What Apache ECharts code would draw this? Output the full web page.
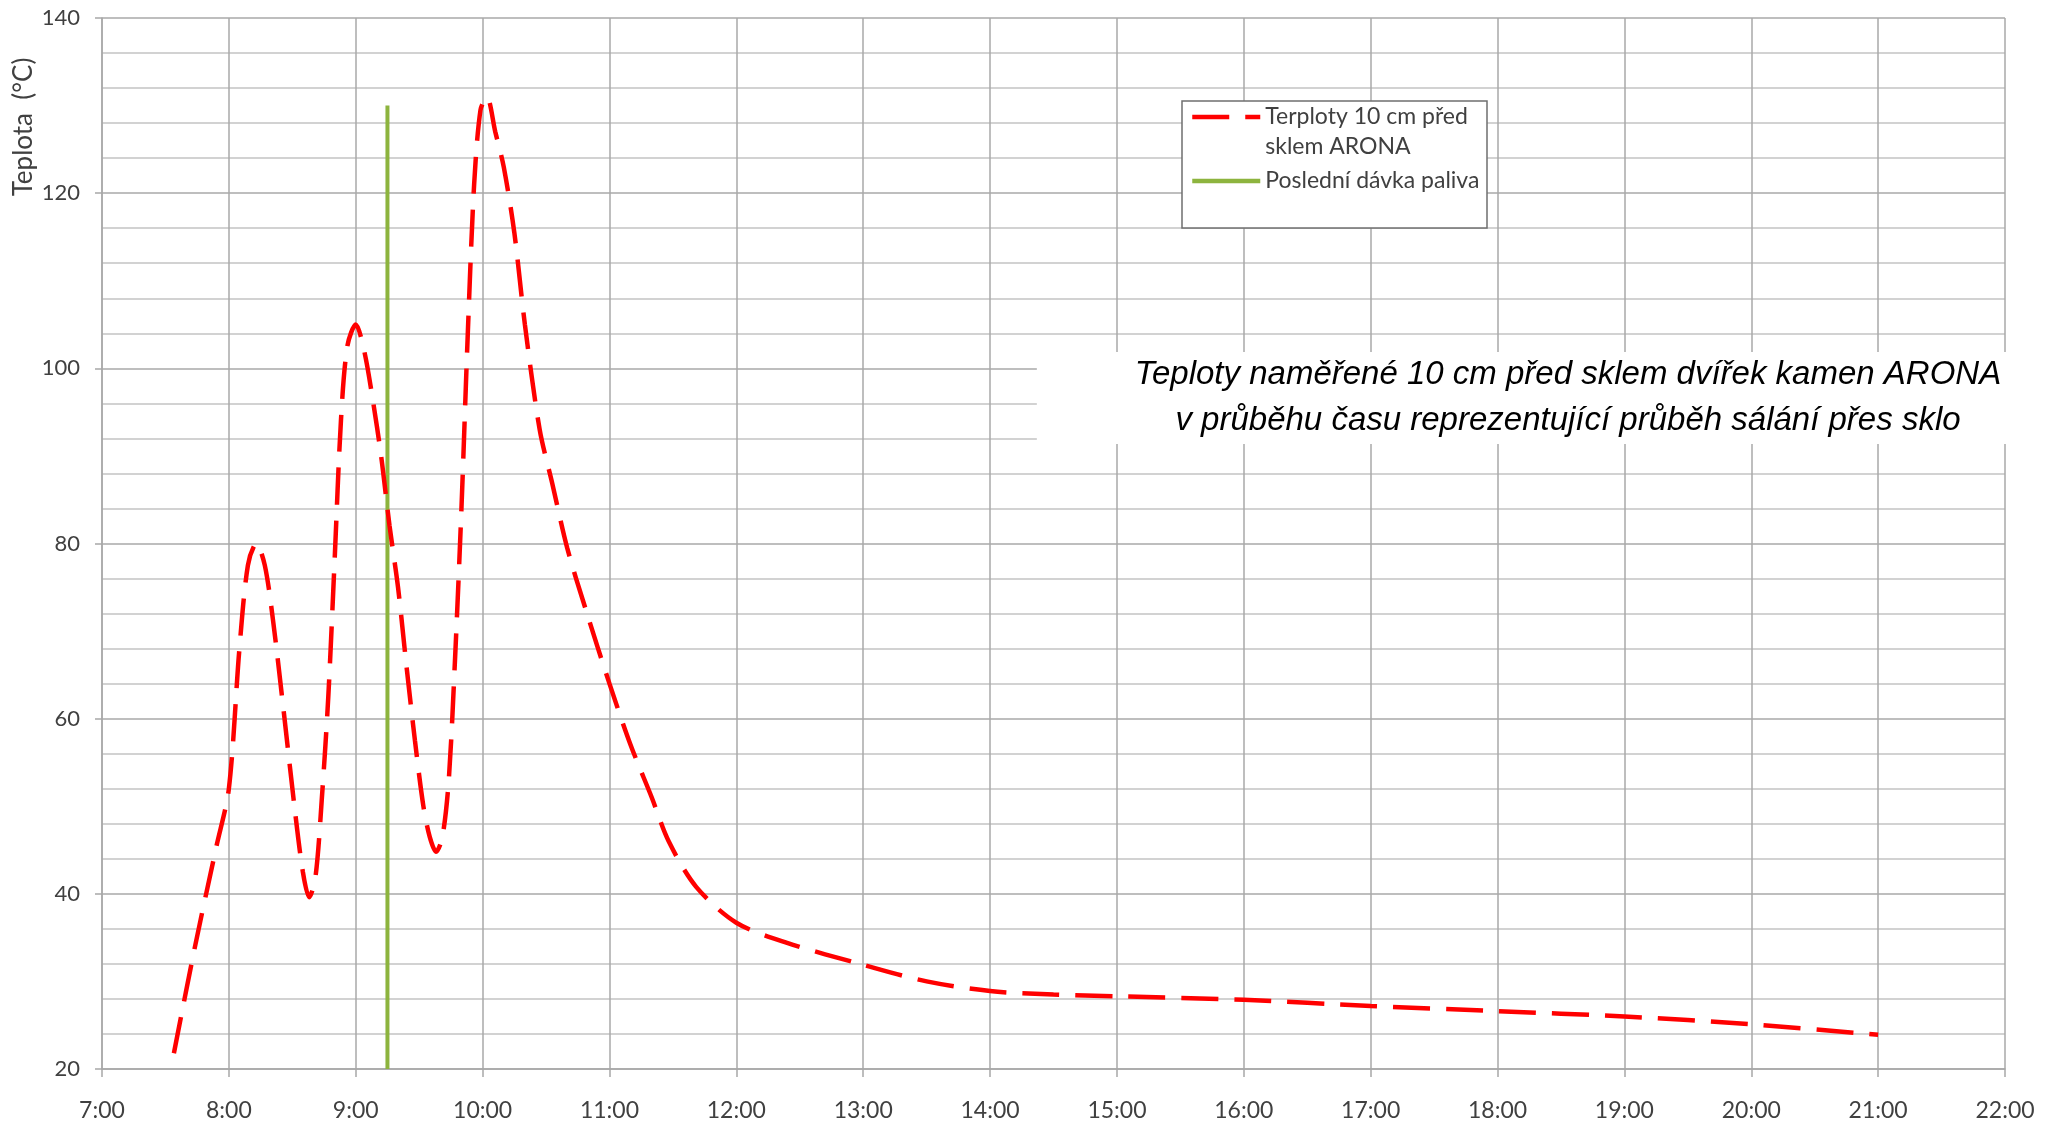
<!DOCTYPE html>
<html>
<head>
<meta charset="utf-8">
<title>Teploty ARONA</title>
<script src="https://cdn.jsdelivr.net/npm/echarts@6/dist/echarts.min.js"></script>
<style>
  html, body { margin: 0; padding: 0; background: #fff; }
  #chart { width: 2056px; height: 1128px; }
</style>
</head>
<body>
<div id="chart"></div>
<script>
// measured temperatures 10 cm in front of the glass (time of day, °C)
const times = ['7:34','7:44','7:54','8:00','8:05','8:09','8:13','8:17','8:21','8:26','8:31','8:35','8:38','8:41','8:44','8:47','8:50','8:53','8:56','9:00','9:04','9:08','9:12','9:16','9:20','9:24','9:28','9:32','9:35','9:38','9:41','9:44','9:47','9:50','9:53','9:56','9:59','10:02','10:06','10:10','10:15','10:20','10:27','10:33','10:40','10:49','11:00','11:10','11:20','11:28','11:41','12:00','12:24','13:00','13:30','14:00','14:30','15:00','16:00','17:00','18:00','19:00','20:00','21:00']
const temps = [21.8,34,45.3,52,68,77.5,80,77.5,71,60.7,50,42.5,39.6,42,51,62.4,78,94,102.5,105,102,96.5,90,82,75,66,57.5,50,46.5,44.8,46.5,53,67,84,104,121,129.5,131,127,123,115.5,105,93,86.8,79.5,72.3,64,57,51,46,40.8,36.7,34.4,31.9,30,28.9,28.5,28.3,27.9,27.2,26.6,26,25.1,23.9]

// last fuel batch marker
const fuelTimes = ['9:15','9:15']
const fuelTemps = [20,130]

const seriesNames = ['Terploty 10 cm před\nsklem ARONA', 'Poslední dávka paliva']
const titleLines = ['Teploty naměřené 10 cm před sklem dvířek kamen ARONA', 'v průběhu času reprezentující průběh sálání přes sklo']
const yName = 'Teplota  (°C)'

const toMin = t => { const [h, m] = t.split(':').map(Number); return h * 60 + m }
const pairs = (ts, vs) => ts.map((t, i) => [toMin(t), vs[i]])

const labelFont = 'Lato, "Open Sans", sans-serif'
const gridColor = '#a8a8a8'
const titlePad = 98

const chart = echarts.init(document.getElementById('chart'))
chart.setOption({
  animation: false,
  backgroundColor: '#fff',
  title: {
    text: titleLines.join('\n'),
    left: 1568 - titlePad,   // text is centred on left + padding
    top: 352,
    textAlign: 'center',
    backgroundColor: '#fff',
    padding: [0, titlePad],
    textStyle: {
      fontFamily: '"Liberation Sans", Arial, sans-serif',
      fontStyle: 'italic',
      fontWeight: 'normal',
      fontSize: 33,
      lineHeight: 46,
      color: '#000'
    }
  },
  legend: {
    orient: 'vertical',
    left: 1190,
    top: 72,
    itemWidth: 68,
    itemHeight: 14,
    itemGap: 4,
    padding: 0,
    itemStyle: { opacity: 0 },
    lineStyle: { width: 4.5 },
    textStyle: { fontFamily: labelFont, fontSize: 23, lineHeight: 30, color: '#404040' },
    // empty first line keeps the icon level with the first text line
    formatter: name => name.indexOf('\n') > -1 ? '\n' + name : name,
    data: seriesNames
  },
  graphic: [
    {
      type: 'rect', z: 3,
      shape: { x: 1182, y: 101, width: 305, height: 127 },
      style: { fill: '#fff', stroke: '#6f6f6f', lineWidth: 1.5 }
    },
    {
      type: 'text', z: 5,
      x: 24, y: 127, rotation: Math.PI / 2,
      style: { text: yName, fontFamily: labelFont, fontSize: 26, fill: '#404040', align: 'center', verticalAlign: 'middle' }
    }
  ],
  grid: { left: 102, right: 51, top: 18, bottom: 59, outerBoundsMode: 'none' },
  xAxis: {
    type: 'value',
    min: 420, max: 1320, interval: 60,
    axisLine: { show: true, lineStyle: { color: gridColor, width: 1.5 } },
    axisTick: { show: true, length: 8, lineStyle: { color: gridColor, width: 1.5 } },
    axisLabel: {
      margin: 30, fontFamily: labelFont, fontSize: 23, color: '#404040',
      formatter: v => Math.floor(v / 60) + ':00'
    },
    splitLine: { show: true, lineStyle: { color: gridColor, width: 1.5 } }
  },
  yAxis: {
    type: 'value',
    min: 20, max: 140, interval: 20,
    axisLine: { show: true, lineStyle: { color: gridColor, width: 1.5 } },
    axisTick: { show: true, length: 7, lineStyle: { color: gridColor, width: 1.5 } },
    axisLabel: { margin: 22, fontFamily: labelFont, fontSize: 22, color: '#404040' },
    splitLine: { show: true, lineStyle: { color: gridColor, width: 1.5 } },
    minorTick: { show: false, splitNumber: 5 },
    minorSplitLine: { show: true, lineStyle: { color: '#c4c4c4', width: 1.5 } }
  },
  series: [
    {
      name: seriesNames[0],
      type: 'line',
      data: pairs(times, temps),
      smooth: 0.3,
      symbol: 'none',
      z: 3,
      lineStyle: { color: '#ff0000', width: 4.5, type: [37, 16] },
      itemStyle: { color: '#ff0000' }
    },
    {
      name: seriesNames[1],
      type: 'line',
      data: pairs(fuelTimes, fuelTemps),
      symbol: 'none',
      z: 2,
      lineStyle: { color: '#8db43e', width: 4 },
      itemStyle: { color: '#8db43e' }
    }
  ]
})
</script>
</body>
</html>
